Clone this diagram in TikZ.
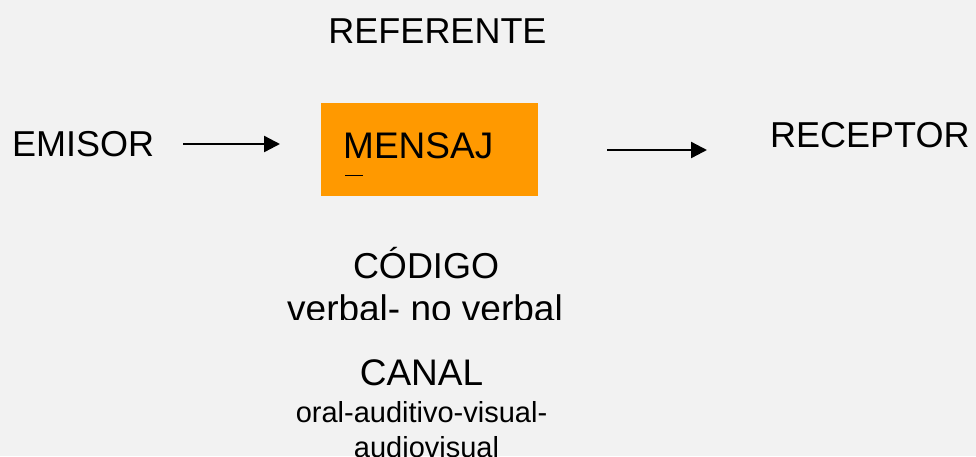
\documentclass[tikz,border=0pt]{standalone}
\usepackage{fontspec}
\setmainfont{Liberation Sans}
\usetikzlibrary{arrows.meta}
\definecolor{bg}{HTML}{F2F2F2}
\definecolor{orng}{HTML}{FF9900}
\tikzset{
  big/.style={inner sep=0pt, font=\fontsize{36}{43}\selectfont},
  small/.style={inner sep=0pt, font=\fontsize{29}{35}\selectfont},
  flow/.style={line width=2.4pt, -{Triangle[length=16pt,width=16pt]}},
}
\begin{document}
\begin{tikzpicture}[x=1pt,y=-1pt]
\fill[bg] (0,0) rectangle (976,456);
\useasboundingbox (0,0) rectangle (976,456);
\node[big, anchor=base] (ref) at (437.5,43) {REFERENTE};
\node[big, anchor=base west] (emi) at (12,156) {EMISOR};
\fill[orng] (321,103) rectangle (538,196);
\node[big, anchor=base west, font=\fontsize{37}{44}\selectfont] (men) at (343,158) {MENSAJ};
\draw[line width=1pt] (345,175) -- (363,175);
\node[big, anchor=base west] (rec) at (770,147) {RECEPTOR};
\coordinate (a1s) at (183,144);
\coordinate (a1e) at (280,144);
\coordinate (a2s) at (607,150);
\coordinate (a2e) at (707,150);
\draw[flow] (a1s) -- (a1e);
\draw[flow] (a2s) -- (a2e);
\node[big, anchor=base] (cod) at (426,278) {CÓDIGO};
\begin{scope}
\clip (250,280) rectangle (600,319.5);
\node[big, anchor=base, font=\fontsize{37}{44}\selectfont] (ver) at (425,321) {verbal- no verbal};
\end{scope}
\node[big, anchor=base, font=\fontsize{37}{44}\selectfont] (can) at (421.5,385) {CANAL};
\node[small, anchor=base] (ora) at (421.5,422) {oral-auditivo-visual-};
\node[small, anchor=base] (aud) at (426.5,457) {audiovisual};
\end{tikzpicture}
\end{document}
